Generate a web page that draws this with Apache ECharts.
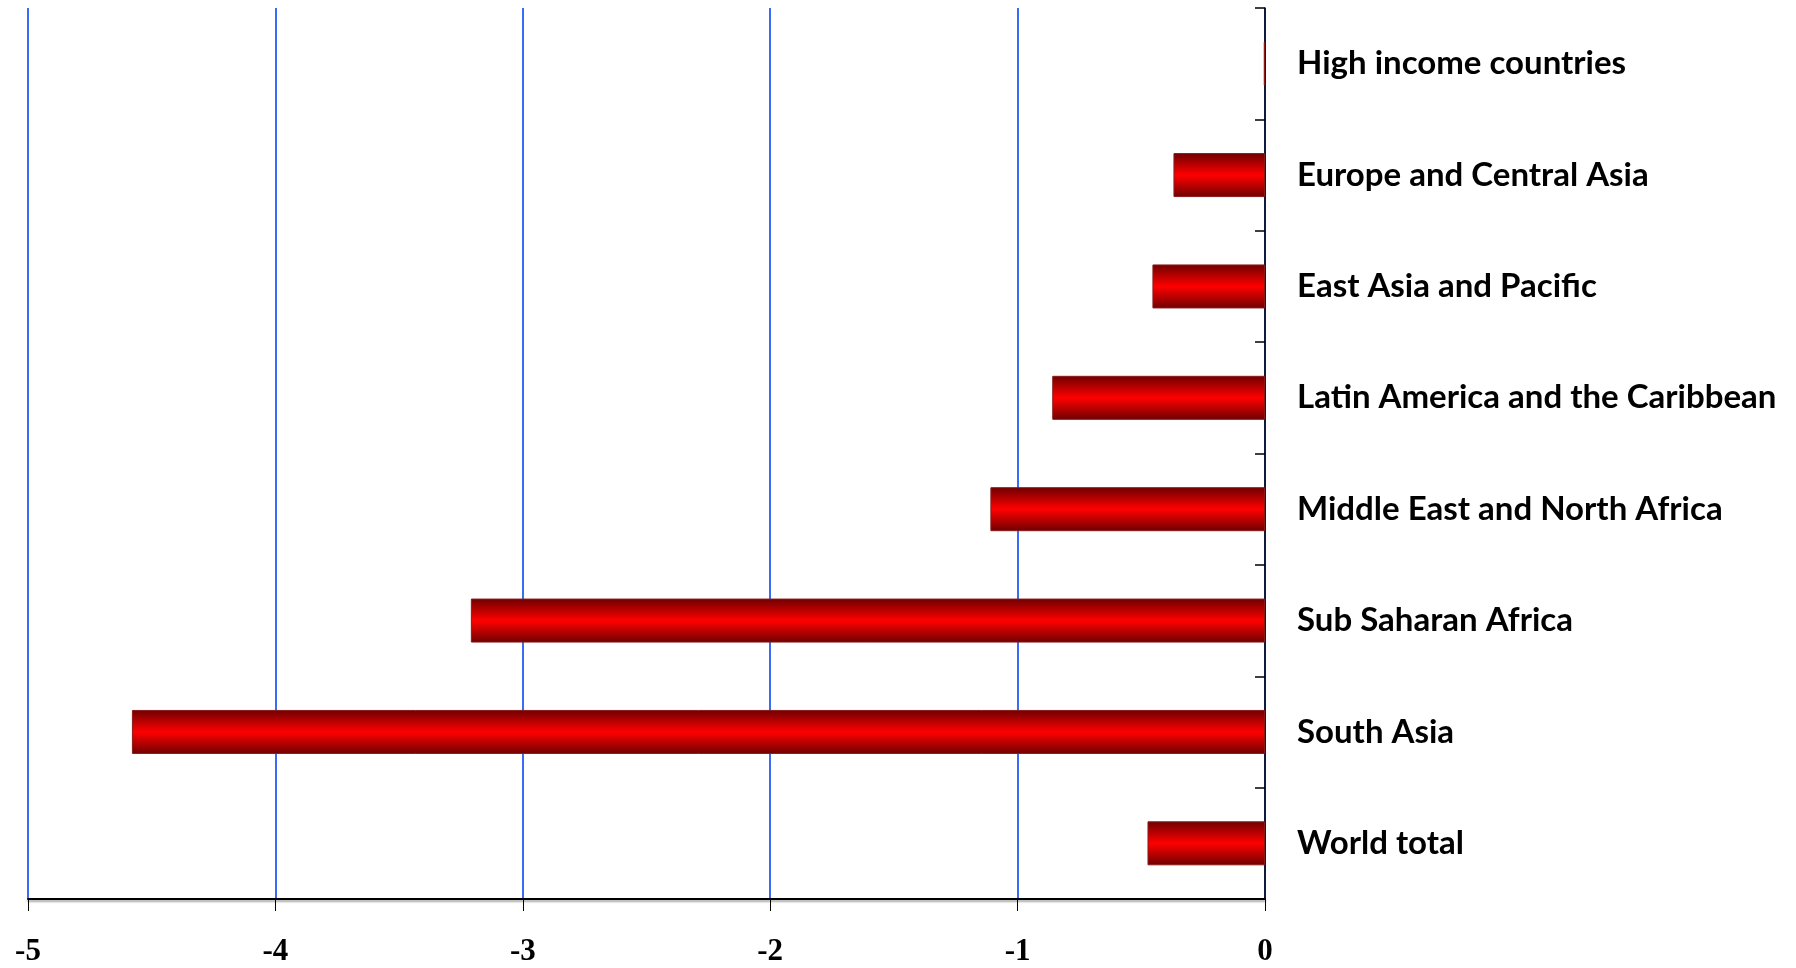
<!DOCTYPE html>
<html>
<head>
<meta charset="utf-8">
<script src="https://cdn.jsdelivr.net/npm/echarts@6/dist/echarts.min.js"></script>
<style>
  html, body { margin: 0; padding: 0; background: #ffffff; }
  #chart { width: 1796px; height: 968px; }
</style>
</head>
<body>
<div id="chart"></div>
<script>
// Regions, listed top to bottom
const regions = [
  'High income countries',
  'Europe and Central Asia',
  'East Asia and Pacific',
  'Latin America and the Caribbean',
  'Middle East and North Africa',
  'Sub Saharan Africa',
  'South Asia',
  'World total'
];
const values = [-0.005, -0.37, -0.455, -0.86, -1.11, -3.21, -4.58, -0.475];
const xTicks = [-5, -4, -3, -2, -1, 0];

const chart = echarts.init(document.getElementById('chart'), null, { renderer: 'canvas' });

const barFill = new echarts.graphic.LinearGradient(0, 0, 0, 1, [
  { offset: 0, color: '#6e0000' },
  { offset: 0.5, color: '#ff0000' },
  { offset: 1, color: '#6e0000' }
]);

chart.setOption({
  animation: false,
  backgroundColor: '#ffffff',
  grid: { left: 28, right: 531, top: 8, bottom: 69, containLabel: false },
  xAxis: {
    type: 'value',
    min: xTicks[0],
    max: xTicks[xTicks.length - 1],
    interval: 1,
    axisLine: { show: true, lineStyle: { color: '#000000', width: 2, shadowColor: 'rgba(0,0,0,0.35)', shadowOffsetY: 2, shadowBlur: 2 } },
    axisTick: { show: true, length: 12, lineStyle: { color: '#000000', width: 1 } },
    splitLine: { show: true, lineStyle: { color: '#3a6cf5', width: 2 } },
    axisLabel: {
      margin: 37,
      color: '#000000',
      fontFamily: 'Liberation Serif, DejaVu Serif, serif',
      fontWeight: 'bold',
      fontSize: 31
    }
  },
  yAxis: {
    type: 'category',
    data: regions,
    inverse: true,
    position: 'right',
    axisLine: { show: true, onZero: false, lineStyle: { color: '#000000', width: 1.5 } },
    axisTick: { show: true, inside: true, length: 10, lineStyle: { color: '#000000', width: 1.5 } },
    splitLine: { show: false },
    axisLabel: {
      margin: 32,
      color: '#000000',
      fontFamily: 'Lato, Open Sans, sans-serif',
      fontWeight: 'bold',
      fontSize: 33
    }
  },
  series: [{
    type: 'bar',
    data: values,
    barWidth: 44,
    itemStyle: {
      color: barFill,
      borderColor: '#8a1a1a',
      borderWidth: 1
    }
  }]
});
</script>
</body>
</html>
